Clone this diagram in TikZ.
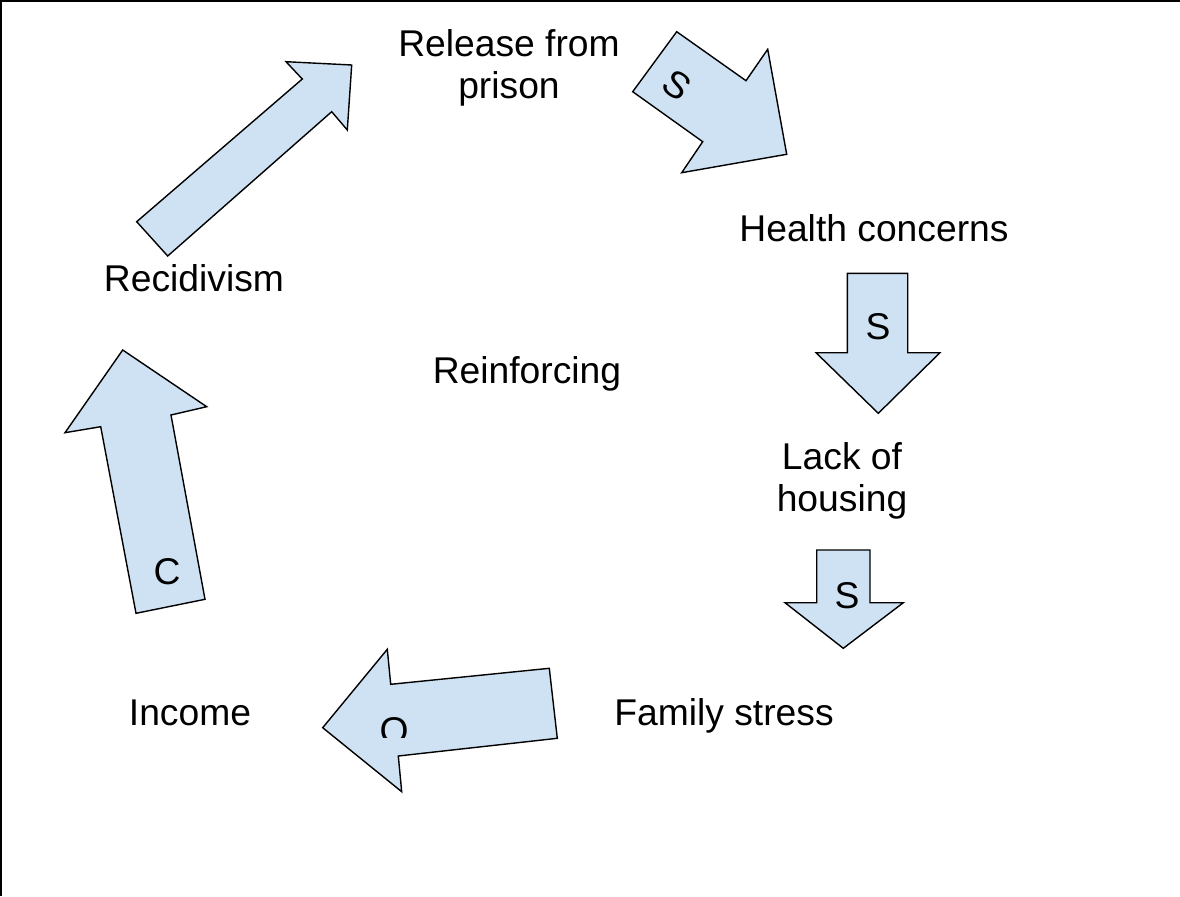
\documentclass[tikz,border=0pt]{standalone}
\usepackage{fontspec}
\setmainfont{Liberation Sans}
\definecolor{arrowblue}{HTML}{CFE2F3}

\begin{document}
\begin{tikzpicture}[x=0.02cm, y=-0.02cm,
        lbl/.style={font=\fontsize{21.2}{23.6}\selectfont, align=center, inner sep=0pt, anchor=base},
        blockarrow/.style={draw=black, line width=0.8pt, fill=arrowblue, line join=miter}]
        \useasboundingbox (0,0) rectangle (1180,896);

        % Moldura
        \draw[line width=1.2pt] (1,896) -- (1,1) -- (1180,1);

        % Estados do ciclo
        \node[lbl] (release) at (509,98) {Release from\\prison};
        \node[lbl] (health) at (874,241) {Health concerns};
        \node[lbl] (housing) at (842,511) {Lack of\\housing};
        \node[lbl] (family) at (724,725) {Family stress};
        \node[lbl] (income) at (190,725) {Income};
        \node[lbl] (recid) at (194,291) {Recidivism};
        \node[lbl] (loop) at (527,383) {Reinforcing};

        % Setas largas
        \draw[blockarrow] (136.7,221.7) -- (302.3,79) -- (286,61.7) -- (351.7,65) -- (347.3,130) -- (331.7,111.7) -- (167.7,256) -- cycle;
        \draw[blockarrow] (676.7,31.7) -- (746,80.7) -- (767.7,49.3) -- (786.7,154.3) -- (681.7,172.7) -- (702.7,141.7) -- (632.7,91.7) -- cycle;
        \draw[blockarrow] (847.3,273.3) -- (907.7,273.3) -- (907.7,352.7) -- (940,352.7) -- (878.3,413.3) -- (816,352.7) -- (847.3,352.7) -- cycle;
        \draw[blockarrow] (816.7,550) -- (870,550) -- (870,602.7) -- (903.3,602.7) -- (843.3,648.3) -- (785,602.7) -- (816.7,602.7) -- cycle;
        \draw[blockarrow] (549.3,668.3) -- (390.7,684.3) -- (387.3,649.3) -- (322.7,727.7) -- (401.7,791.7) -- (398.3,756) -- (557.3,738.3) -- cycle;
        \draw[blockarrow] (136,613.3) -- (205,599.3) -- (171,415) -- (206.7,406.7) -- (122.7,350) -- (65,432.7) -- (100.7,426.7) -- cycle;

        % Polaridades
        \node[lbl, anchor=center, rotate=-35] (pol1) at (677,85) {S};
        \node[lbl, anchor=center] (pol2) at (878,327) {S};
        \node[lbl, anchor=center] (pol3) at (847,596) {S};
        \begin{scope}
            \clip (360,700) rectangle (430,737);
            \node[lbl, anchor=center] (pol4) at (394,731) {O};
        \end{scope}
        \node[lbl, anchor=center] (pol5) at (167,572) {C};

\end{tikzpicture}
\end{document}
